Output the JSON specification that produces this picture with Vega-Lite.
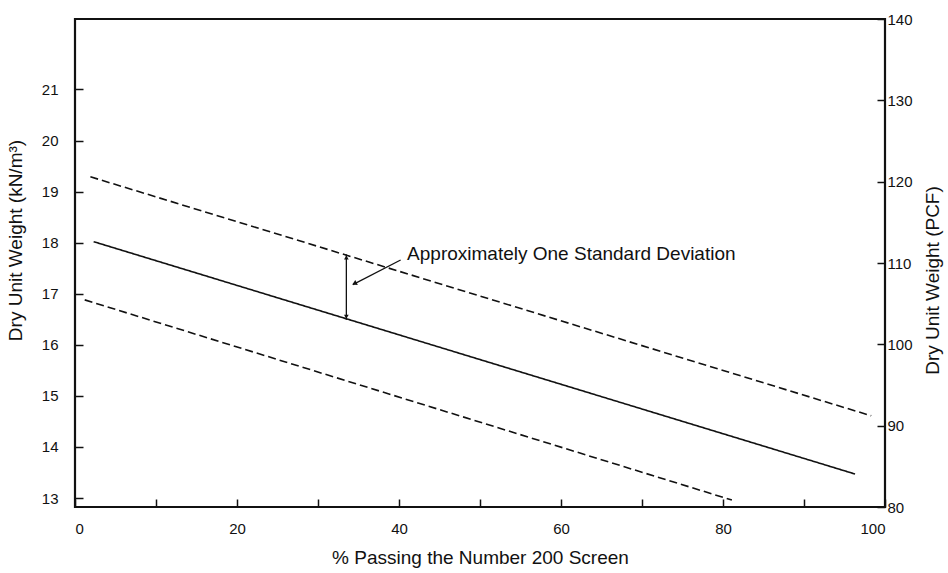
{
  "$schema": "https://vega.github.io/schema/vega-lite/v6.json",
  "width": 810,
  "height": 488,
  "autosize": "none",
  "padding": {"left": 75, "top": 19, "right": 63, "bottom": 66},
  "background": "white",
  "config": {
    "font": "Liberation Sans",
    "view": {"stroke": "#111", "strokeWidth": 2.2},
    "axis": {
      "grid": false,
      "domain": false,
      "tickColor": "#111",
      "tickWidth": 1.5,
      "tickSize": -8,
      "labelColor": "#111",
      "labelFontSize": 15,
      "titleColor": "#111",
      "titleFontSize": 19,
      "titleFontWeight": "normal"
    }
  },
  "datasets": {
    "lines": [
      {"series": "upper", "pct": 1.9, "kn": 19.29},
      {"series": "upper", "pct": 98.3, "kn": 14.61},
      {"series": "mean", "pct": 2.3, "kn": 18.02},
      {"series": "mean", "pct": 96.3, "kn": 13.47},
      {"series": "lower", "pct": 1.2, "kn": 16.88},
      {"series": "lower", "pct": 81.1, "kn": 12.96}
    ],
    "arrow": [{"pct": 33.5, "kn_low": 16.49, "kn_high": 17.77}],
    "heads": [
      {"pct": 33.5, "kn": 17.71, "dir": "up"},
      {"pct": 33.5, "kn": 16.55, "dir": "down"}
    ],
    "leader": [{"pct": 40.2, "kn": 17.66, "pct2": 34.3, "kn2": 17.18}],
    "leaderHead": [{"pct": 34.5, "kn": 17.2}],
    "note": [{"pct": 41.0, "kn": 17.78, "label": "Approximately One Standard Deviation"}],
    "pcf": [{"pcf": 80}, {"pcf": 140}]
  },
  "layer": [
    {
      "encoding": {
        "x": {
          "type": "quantitative",
          "scale": {"domain": [0, 100], "nice": false},
          "axis": {
            "values": [0, 10, 20, 30, 40, 50, 60, 70, 80, 90, 100],
            "labelExpr": "datum.value % 20 === 0 ? datum.label : ''",
            "labelPadding": 22,
            "title": "% Passing the Number 200 Screen",
            "titlePadding": 12
          }
        },
        "y": {
          "type": "quantitative",
          "scale": {"domain": [12.824, 22.38], "nice": false, "zero": false},
          "axis": {
            "values": [13, 14, 15, 16, 17, 18, 19, 20, 21],
            "labelPadding": 25,
            "title": "Dry Unit Weight (kN/m³)",
            "titlePadding": 16,
            "titleY": 221
          }
        }
      },
      "layer": [
        {
          "data": {"name": "lines"},
          "mark": {"type": "line", "color": "#111", "strokeWidth": 1.6},
          "encoding": {
            "x": {"field": "pct", "type": "quantitative"},
            "y": {"field": "kn", "type": "quantitative"},
            "detail": {"field": "series"},
            "strokeDash": {
              "field": "series",
              "type": "nominal",
              "scale": {"domain": ["mean", "upper", "lower"], "range": [[1, 0], [8, 4], [8, 4]]},
              "legend": null
            }
          }
        },
        {
          "data": {"name": "arrow"},
          "mark": {"type": "rule", "color": "#111", "strokeWidth": 1.3},
          "encoding": {
            "x": {"field": "pct", "type": "quantitative"},
            "y": {"field": "kn_low", "type": "quantitative"},
            "y2": {"field": "kn_high"}
          }
        },
        {
          "data": {"name": "heads"},
          "mark": {"type": "point", "filled": true, "color": "#111", "size": 22, "opacity": 1},
          "encoding": {
            "x": {"field": "pct", "type": "quantitative"},
            "y": {"field": "kn", "type": "quantitative"},
            "shape": {
              "field": "dir",
              "type": "nominal",
              "scale": {"domain": ["up", "down"], "range": ["triangle-up", "triangle-down"]},
              "legend": null
            }
          }
        },
        {
          "data": {"name": "leader"},
          "mark": {"type": "rule", "color": "#111", "strokeWidth": 1.3},
          "encoding": {
            "x": {"field": "pct", "type": "quantitative"},
            "y": {"field": "kn", "type": "quantitative"},
            "x2": {"field": "pct2"},
            "y2": {"field": "kn2"}
          }
        },
        {
          "data": {"name": "leaderHead"},
          "mark": {"type": "point", "shape": "triangle-up", "angle": 243, "filled": true, "color": "#111", "size": 30, "opacity": 1},
          "encoding": {
            "x": {"field": "pct", "type": "quantitative"},
            "y": {"field": "kn", "type": "quantitative"}
          }
        },
        {
          "data": {"name": "note"},
          "mark": {"type": "text", "align": "left", "baseline": "middle", "fontSize": 19, "color": "#111"},
          "encoding": {
            "x": {"field": "pct", "type": "quantitative"},
            "y": {"field": "kn", "type": "quantitative"},
            "text": {"field": "label"}
          }
        }
      ]
    },
    {
      "data": {"name": "pcf"},
      "mark": {"type": "point", "opacity": 0},
      "encoding": {
        "y": {
          "field": "pcf",
          "type": "quantitative",
          "scale": {"domain": [80, 140], "nice": false, "zero": false},
          "axis": {
            "orient": "right",
            "values": [80, 90, 100, 110, 120, 130, 140],
            "labelPadding": 10,
            "title": "Dry Unit Weight (PCF)",
            "titleAngle": 270,
            "titlePadding": 30,
            "titleY": 261
          }
        }
      }
    }
  ],
  "resolve": {"scale": {"y": "independent"}}
}
